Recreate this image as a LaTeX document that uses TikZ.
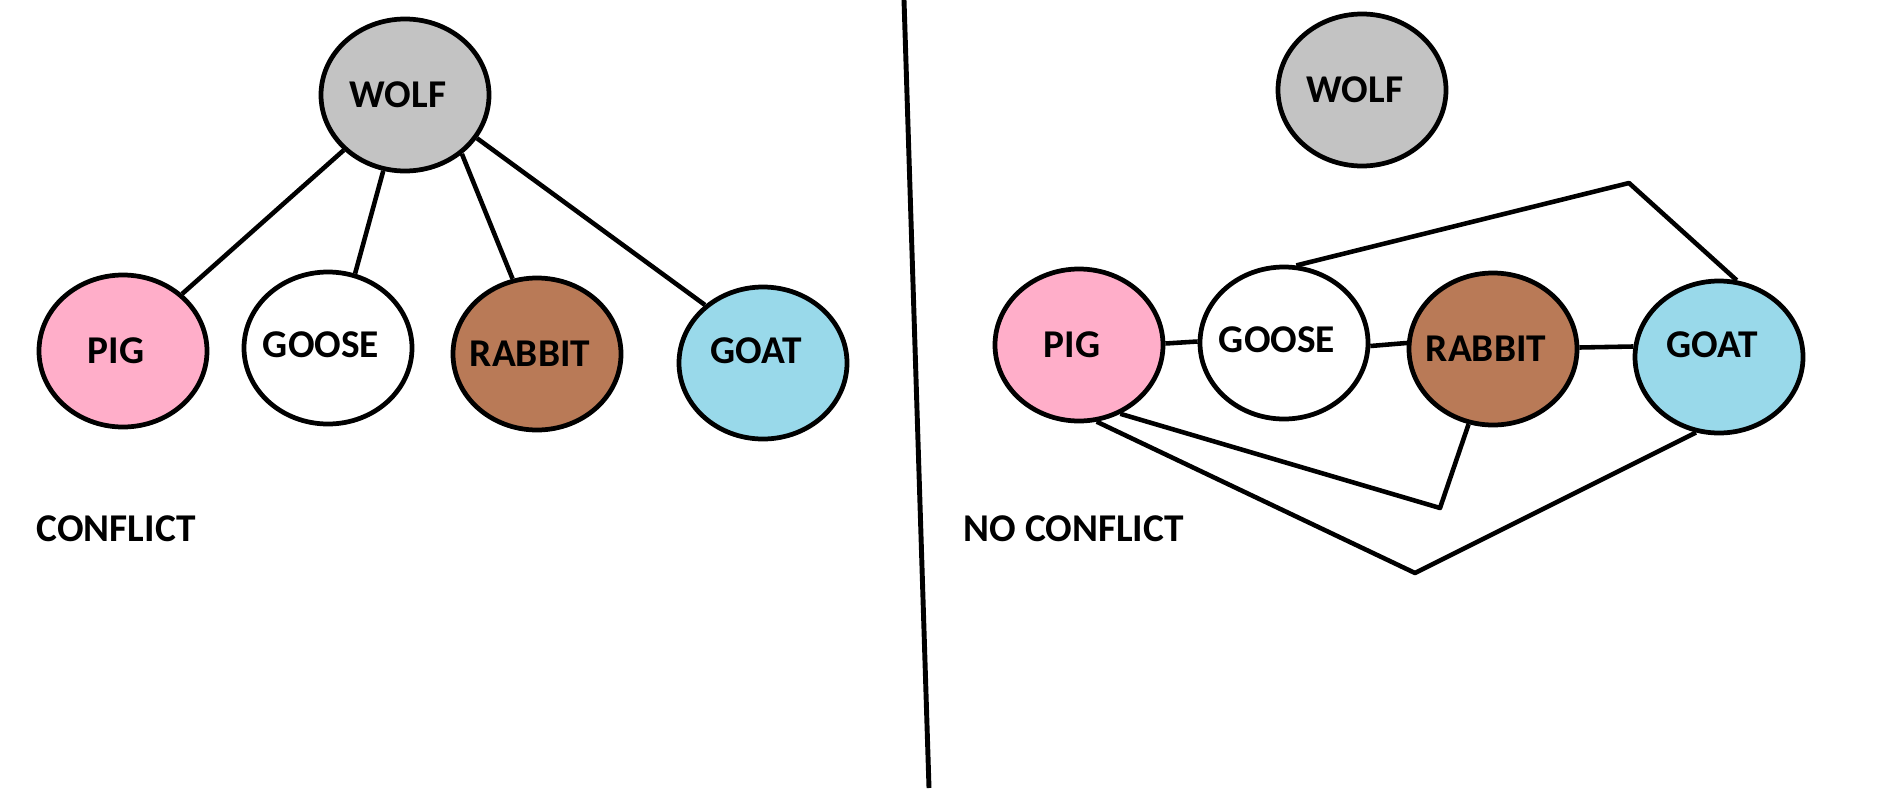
\documentclass[tikz,border=0pt]{standalone}
\usepackage{fontspec}
\setmainfont{Carlito}
\usetikzlibrary{shapes.geometric}
\definecolor{wolfgray}{HTML}{C3C3C3}
\definecolor{pigpink}{HTML}{FFAEC9}
\definecolor{rabbitbrown}{HTML}{B97A57}
\definecolor{goatblue}{HTML}{99D9EA}

\begin{document}
\begin{tikzpicture}[
        animal/.style={ellipse, draw=black, line width=1.35pt, minimum width=1.68cm, minimum height=1.52cm, inner sep=0pt, font=\fontsize{11.2}{13}\selectfont\bfseries, execute at begin node={\hspace*{-0.14cm}}},
        raised/.style={text depth=#1},
        link/.style={line width=1.3pt, line join=round},
        caption/.style={anchor=west, inner sep=0pt, font=\fontsize{11.2}{13}\selectfont\bfseries}
    ]
        \useasboundingbox (0,0) rectangle (18.97,-7.88);

        \node (wolf1) [animal, fill=wolfgray] at (4.05,-0.95) {WOLF};
        \node (pig1) [animal, fill=pigpink] at (1.23,-3.51) {PIG};
        \node (goose1) [animal, fill=white, raised=0.07cm] at (3.28,-3.48) {GOOSE};
        \node (rabbit1) [animal, fill=rabbitbrown] at (5.37,-3.54) {RABBIT};
        \node (goat1) [animal, fill=goatblue, raised=0.24cm] at (7.63,-3.63) {GOAT};
        \node (conflict) [caption] at (0.36,-5.29) {CONFLICT};

        \draw[link] (wolf1.222) -- (pig1.44);
        \draw[link] (wolf1.254) -- (goose1.70);
        \draw[link] (wolf1.314) -- (rabbit1.108);
        \draw[link] (wolf1.329) -- (goat1.135);

        \coordinate (divtop) at (9.04,0);
        \coordinate (divbot) at (9.29,-7.88);
        \draw[line width=1.4pt] (divtop) -- (divbot);

        \node (wolf2) [animal, fill=wolfgray] at (13.62,-0.90) {WOLF};
        \node (pig2) [animal, fill=pigpink] at (10.79,-3.45) {PIG};
        \node (goose2) [animal, fill=white, raised=0.07cm] at (12.84,-3.43) {GOOSE};
        \node (rabbit2) [animal, fill=rabbitbrown] at (14.93,-3.49) {RABBIT};
        \node (goat2) [animal, fill=goatblue, raised=0.24cm] at (17.19,-3.57) {GOAT};
        \node (noconflict) [caption] at (9.63,-5.29) {NO CONFLICT};

        \coordinate (bendtop) at (16.29,-1.83);
        \coordinate (bendmid) at (14.40,-5.08);
        \coordinate (bendlow) at (14.15,-5.73);

        \draw[link] (pig2.1) -- (goose2.179);
        \draw[link] (goose2.358) -- (rabbit2.176);
        \draw[link] (rabbit2.1) -- (goat2.173);
        \draw[link] (goose2.81) -- (bendtop) -- (goat2.77);
        \draw[link] (pig2.301) -- (bendmid) -- (rabbit2.252);
        \draw[link] (pig2.283) -- (bendlow) -- (goat2.253);
    \end{tikzpicture}
\end{document}
